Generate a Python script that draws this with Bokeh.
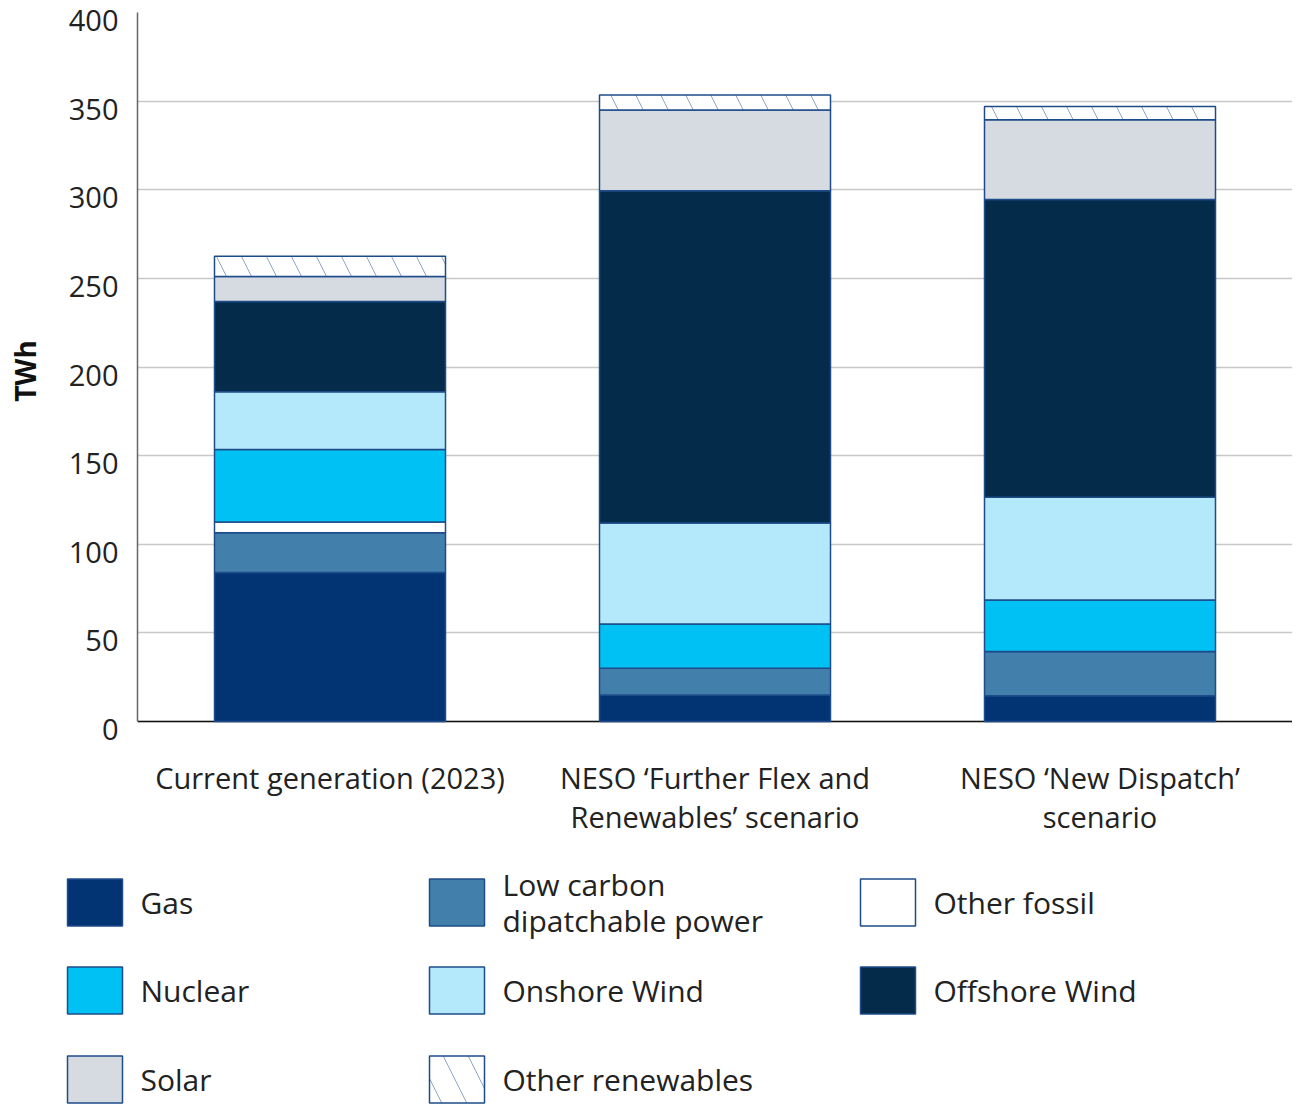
from bokeh.plotting import figure
from bokeh.models import (FactorRange, Range1d, ColumnDataSource, FixedTicker,
                          LinearAxis, CustomJSTickFormatter, Grid)
from bokeh.layouts import column
from bokeh.core.properties import value
from bokeh.embed import file_html
from bokeh.resources import INLINE

# ---- data ----
categories = ["Current generation (2023)",
              "NESO ‘Further Flex and Renewables’ scenario",
              "NESO ‘New Dispatch’ scenario"]
category_labels = ["Current generation (2023)",
                   "NESO ‘Further Flex and\nRenewables’ scenario",
                   "NESO ‘New Dispatch’\nscenario"]
gas = [84.0, 15.0, 14.5]
low_carbon = [22.5, 15.0, 25.0]
other_fossil = [6.0, 0.0, 0.0]
nuclear = [41.0, 25.0, 29.0]
onshore = [32.5, 57.0, 58.0]
offshore = [51.0, 187.5, 168.0]
solar = [14.0, 45.5, 45.0]
other_renewables = [11.5, 8.5, 7.5]

series_keys = ["gas", "low_carbon", "other_fossil", "nuclear", "onshore",
               "offshore", "solar", "other_renewables"]
series_names = ["Gas", "Low carbon\ndipatchable power", "Other fossil", "Nuclear",
                "Onshore Wind", "Offshore Wind", "Solar", "Other renewables"]
series_colors = ["#023473", "#4280AB", "#FFFFFF", "#00C1F3",
                 "#B3E9FA", "#052B4A", "#D6DAE1", "#FFFFFF"]
series_hatch = [" ", " ", " ", " ", " ", " ", " ", "\\"]
y_ticks = [0, 50, 100, 150, 200, 250, 300, 350, 400]
y_min, y_max = 0, 400

FONT = "Open Sans"
EDGE = "#1E4C8A"
TXT = "#222222"

src = ColumnDataSource(dict(cat=categories, gas=gas, low_carbon=low_carbon,
                            other_fossil=other_fossil, nuclear=nuclear,
                            onshore=onshore, offshore=offshore, solar=solar,
                            other_renewables=other_renewables))

# layout (pixels)
MAIN_H = 846
TOP, BOTTOM = 12, 117
FRAME_H = MAIN_H - TOP - BOTTOM          # frame runs a few px below the zero line
LABEL_DROP_PX = 8                        # tick labels sit this far below their gridline
span = (y_max - y_min) * FRAME_H / (FRAME_H - LABEL_DROP_PX)
d = span - (y_max - y_min)               # data units equal to LABEL_DROP_PX

p = figure(x_range=FactorRange(*categories, range_padding=0),
           y_range=Range1d(y_min - d, y_max),
           width=1292, height=MAIN_H, output_backend="svg", toolbar_location=None,
           min_border_left=137, min_border_right=0, min_border_top=TOP,
           min_border_bottom=BOTTOM)
p.frame_align = False

p.vbar_stack(series_keys, x="cat", width=0.6, source=src,
             fill_color=series_colors, line_color=EDGE, line_width=1.5,
             hatch_pattern=series_hatch, hatch_color=EDGE, hatch_weight=1.0,
             hatch_scale=50, hatch_alpha=0.5)

p.outline_line_color = None
p.xgrid.grid_line_color = None
p.ygrid.ticker = FixedTicker(ticks=y_ticks)
p.ygrid.grid_line_color = "#C8C8C8"
p.ygrid.grid_line_width = 1.5

# black baseline at zero
p.add_layout(Grid(dimension=1, ticker=FixedTicker(ticks=[y_min]),
                  grid_line_color="#111111", grid_line_width=1.5))

# main y axis: the line only, from 0 to 400
p.yaxis.ticker = FixedTicker(ticks=[])
p.yaxis.bounds = (y_min, y_max)
p.yaxis.major_tick_line_color = None
p.yaxis.minor_tick_line_color = None
p.yaxis.axis_line_color = "#666666"
p.yaxis.axis_line_width = 1.5
p.yaxis.major_label_standoff = 0

# label axis: the tick labels, dropped a few pixels below their gridlines
p.extra_y_ranges = {"labels": Range1d(y_min, y_max + d)}
lab_axis = LinearAxis(y_range_name="labels", ticker=FixedTicker(ticks=y_ticks),
                      axis_line_color=None,
                      major_tick_line_color=None, minor_tick_line_color=None,
                      major_label_standoff=13, major_label_text_font=FONT,
                      major_label_text_font_size="29px", major_label_text_color=TXT,
                      axis_label="TWh", axis_label_text_font=FONT,
                      axis_label_text_font_size="28px", axis_label_text_font_style="bold",
                      axis_label_text_color="#111111", axis_label_standoff=22)
p.add_layout(lab_axis, "left")

# x axis: category labels only (the baseline is drawn at zero above)
p.xaxis.major_tick_line_color = None
p.xaxis.axis_line_color = None
p.xaxis.major_label_text_font = FONT
p.xaxis.major_label_text_font_size = "29px"
p.xaxis.major_label_text_color = TXT
p.xaxis.major_label_text_line_height = 1.0
p.xaxis.major_label_standoff = 22
p.xaxis.formatter = CustomJSTickFormatter(
    args=dict(cats=categories, labs=category_labels),
    code="const i = cats.indexOf(tick); return i >= 0 ? labs[i] : tick;")

# ---- legend figure ----
LH = 1106 - MAIN_H
leg = figure(width=1292, height=LH, x_range=Range1d(0, 1292), y_range=Range1d(LH, 0),
             output_backend="svg", toolbar_location=None, min_border=0)
leg.frame_align = False
leg.axis.visible = False
leg.grid.grid_line_color = None
leg.outline_line_color = None

col_left = [67, 429, 860]
row_mid = [56, 144, 233]
sw_w, sw_h = 55, 47
lx, ly, tx = [], [], []
for i in range(len(series_names)):
    c, r = i % 3, i // 3
    lx.append(col_left[c] + sw_w / 2)
    ly.append(row_mid[r])
    tx.append(col_left[c] + 73)

lsrc = ColumnDataSource(dict(x=lx, y=ly, tx=tx, name=series_names, color=series_colors,
                             hatch=series_hatch))
leg.rect(x="x", y="y", width=sw_w, height=sw_h, source=lsrc, fill_color="color",
         line_color=EDGE, line_width=1.5, hatch_pattern="hatch", hatch_color=EDGE,
         hatch_weight=1.0, hatch_scale=50, hatch_alpha=0.5)
leg.text(x="tx", y="y", text="name", source=lsrc, text_font=value(FONT),
         text_font_size="30px", text_baseline="middle", text_color=TXT,
         text_line_height=0.9)

layout = column(p, leg, spacing=0)
open("out.html", "w").write(file_html(layout, INLINE))
